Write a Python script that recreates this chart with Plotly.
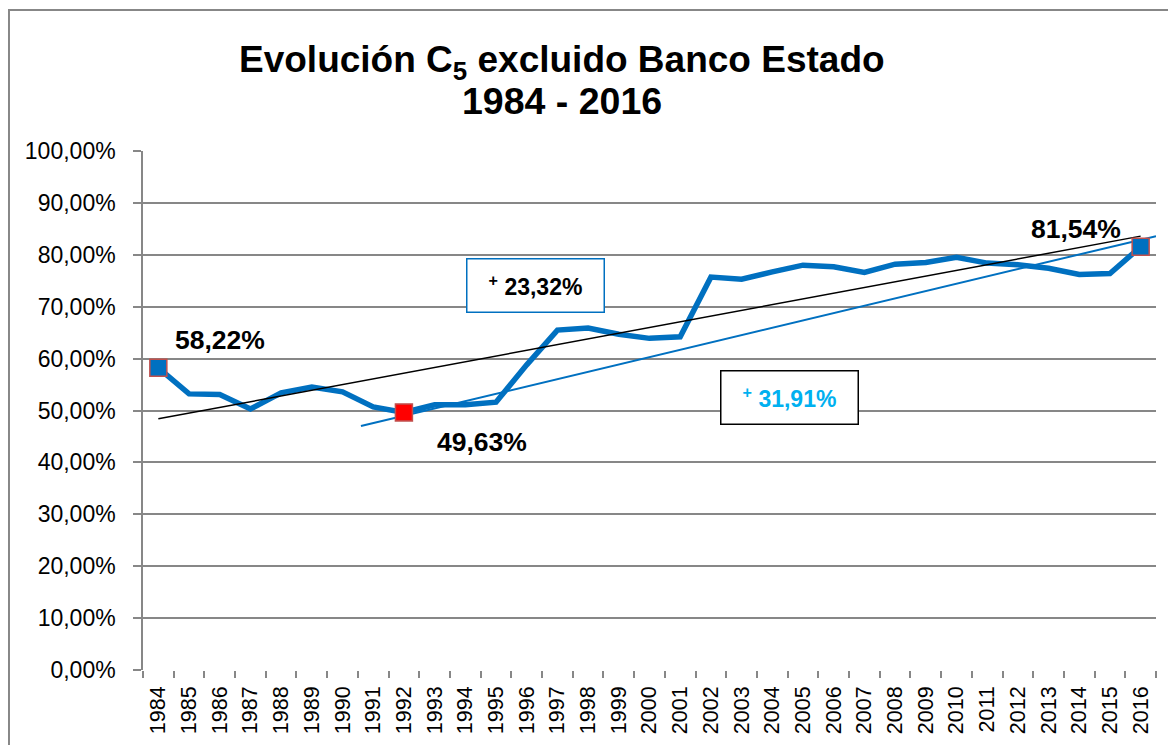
import plotly.graph_objects as go

years = list(range(1984, 2017))
c5_pct = [58.22, 53.2, 53.1, 50.3, 53.4, 54.5, 53.6, 50.7, 49.63, 51.1, 51.1, 51.6,
          58.8, 65.5, 65.9, 64.7, 63.9, 64.2, 75.7, 75.3, 76.7, 78.0, 77.7, 76.6,
          78.2, 78.5, 79.5, 78.4, 78.1, 77.4, 76.2, 76.4, 81.54]

# trend lines (start / end)
trend_all_x = [1984, 2016]
trend_all_pct = [48.4, 83.6]
trend_92_x = [1990.6, 2016.5]
trend_92_pct = [47.0, 83.6]

highlight_years = [1984, 1992, 2016]
highlight_pct = [58.22, 49.63, 81.54]
highlight_fill = ["#0070C0", "#FF0000", "#0070C0"]
highlight_text = ["58,22%", "49,63%", "81,54%"]
label_x = [1986.0, 1994.55, 2013.9]
label_pct = [63.6, 43.9, 84.97]

box_text = ["<sup>+</sup> 23,32%", "<sup>+</sup> 31,91%"]
box_x = [1996.3, 2004.55]
box_pct = [74.0, 52.6]

ytick_vals = [i / 10 for i in range(11)]

BLUE = "#0070C0"
GRID = "#878787"
FONT = "Liberation Sans"

fig = go.Figure()
fig.add_trace(go.Scatter(x=years, y=[v / 100 for v in c5_pct], mode="lines",
                         line=dict(color=BLUE, width=5.5), hoverinfo="skip"))
fig.add_trace(go.Scatter(x=trend_all_x, y=[v / 100 for v in trend_all_pct], mode="lines",
                         line=dict(color="#000000", width=1.5), hoverinfo="skip"))
fig.add_trace(go.Scatter(x=trend_92_x, y=[v / 100 for v in trend_92_pct], mode="lines",
                         line=dict(color=BLUE, width=2), hoverinfo="skip"))
fig.add_trace(go.Scatter(x=highlight_years, y=[v / 100 for v in highlight_pct], mode="markers",
                         marker=dict(symbol="square", size=17, color=highlight_fill,
                                     line=dict(color="#C0504D", width=1.5)),
                         hoverinfo="skip"))

for t, x, y in zip(highlight_text, label_x, label_pct):
    fig.add_annotation(x=x, y=y / 100, text=t, showarrow=False,
                       xanchor="center", yanchor="middle",
                       font=dict(family=FONT, size=26.5, color="#000000", weight="bold"))

box_border = [BLUE, "#000000"]
box_font = ["#000000", "#00B0F0"]
for t, x, y, bc, fc in zip(box_text, box_x, box_pct, box_border, box_font):
    fig.add_annotation(x=x, y=y / 100, text=t, showarrow=False, width=136, height=52,
                       xanchor="center", yanchor="middle",
                       bordercolor=bc, borderwidth=1.5, borderpad=0, bgcolor="#FFFFFF",
                       font=dict(family=FONT, size=23, color=fc, weight="bold"))

# title (two lines)
fig.add_annotation(xref="paper", yref="paper", x=0.4141, y=1.1715,
                   xanchor="center", yanchor="middle",
                   text="Evolución C<sub>5</sub> excluido Banco Estado", showarrow=False,
                   font=dict(family=FONT, size=37, color="#000000", weight="bold"))
fig.add_annotation(xref="paper", yref="paper", x=0.4141, y=1.097,
                   xanchor="center", yanchor="middle",
                   text="1984 - 2016", showarrow=False,
                   font=dict(family=FONT, size=37.5, color="#000000", weight="bold"))

# chart area border
fig.add_shape(type="rect", xref="paper", yref="paper", x0=-0.1323, x1=1.1, y0=-0.3, y1=1.2717,
              line=dict(color=GRID, width=2), layer="below")

# the page adds an 8px body margin, so the figure is 8px smaller and shifted
fig.update_layout(
    width=1168, height=737,
    margin=dict(l=135, r=20, t=143, b=75),
    paper_bgcolor="#FFFFFF", plot_bgcolor="#FFFFFF",
    separators=",.",
    showlegend=False,
    xaxis=dict(range=[1983.5, 2016.5], tickmode="linear", tick0=1984, dtick=1,
               ticks="", tickangle=-90, showgrid=False, zeroline=False,
               showline=False, ticklabelstandoff=11,
               tickfont=dict(family=FONT, size=21.5, color="#000000"),
               minor=dict(tickmode="linear", tick0=1983.5, dtick=1, ticks="outside",
                          ticklen=7, tickcolor=GRID, tickwidth=1.5, showgrid=False)),
    yaxis=dict(range=[0, 1], tickvals=ytick_vals, tickformat=".2%",
               showgrid=True, gridcolor=GRID, gridwidth=1.5, zeroline=False,
               showline=True, linecolor=GRID, linewidth=1.5,
               ticks="outside", ticklen=8, tickcolor=GRID, tickwidth=1.5,
               ticklabelstandoff=13,
               tickfont=dict(family=FONT, size=23, color="#000000")),
)

fig.write_html("out.html")
